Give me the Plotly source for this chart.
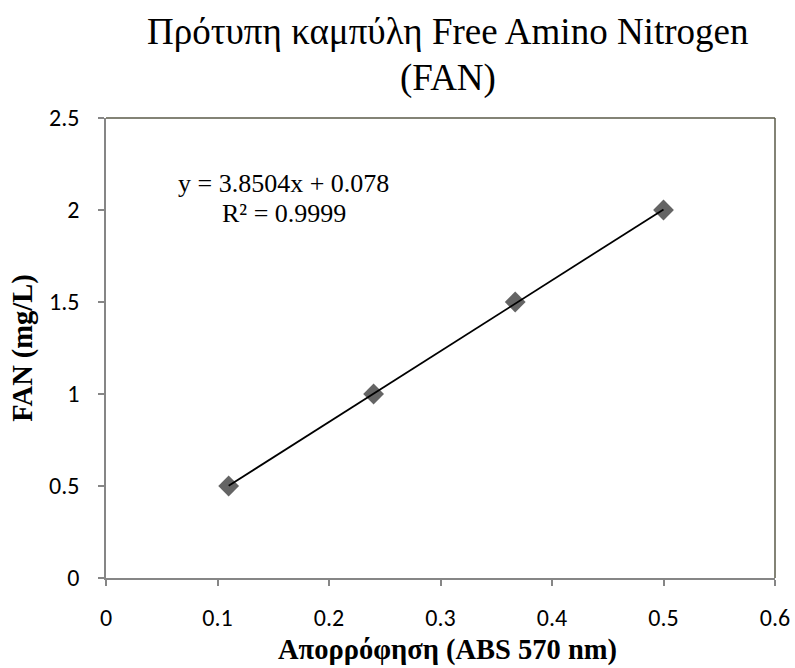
import plotly.graph_objects as go

# Calibration standard: absorbance at 570 nm vs FAN concentration
absorbance = [0.11, 0.24, 0.367, 0.5]
fan_mg_l = [0.5, 1.0, 1.5, 2.0]

# Linear trendline reported on the chart
slope = 3.8504
intercept = 0.078
r_squared = 0.9999

x_ticks = [0, 0.1, 0.2, 0.3, 0.4, 0.5, 0.6]
y_ticks = [0, 0.5, 1, 1.5, 2, 2.5]

title_lines = ["Πρότυπη καμπύλη Free Amino Nitrogen", "(FAN)"]
x_title = "Απορρόφηση (ABS 570 nm)"
y_title = "FAN (mg/L)"

trend_x = [min(absorbance), max(absorbance)]
trend_y = [slope * v + intercept for v in trend_x]

serif = "Liberation Serif, Times New Roman, serif"
sans = "Carlito, Lato, Calibri, sans-serif"
axis_grey = "#868686"

W, H = 795, 668
M_L, M_R, M_T, M_B = 106, 20, 118, 90
plot_h = H - M_T - M_B
plot_w = W - M_L - M_R


def paper_y(py):
    return (H - M_B - py) / plot_h


def paper_x(px):
    return (px - M_L) / plot_w


fig = go.Figure()
fig.add_trace(go.Scatter(
    x=absorbance, y=fan_mg_l, mode="markers",
    marker=dict(symbol="diamond", size=16, color="#646464"),
    showlegend=False, hoverinfo="x+y",
))
fig.add_trace(go.Scatter(
    x=trend_x, y=trend_y, mode="lines",
    line=dict(color="black", width=1.75),
    showlegend=False, hoverinfo="skip",
))

fig.update_layout(
    width=W, height=H,
    margin=dict(l=M_L, r=M_R, t=M_T, b=M_B),
    paper_bgcolor="white", plot_bgcolor="white",
    xaxis=dict(
        range=[0, 0.6], tickvals=x_ticks, ticktext=[f"{v:g}" for v in x_ticks],
        showgrid=False, zeroline=False, automargin=False,
        showline=True, linecolor=axis_grey, linewidth=1.5,
        ticks="outside", ticklen=6, tickcolor=axis_grey, tickwidth=1.5,
        tickfont=dict(family=sans, size=24, color="black"),
        ticklabelstandoff=11,
    ),
    yaxis=dict(
        range=[0, 2.5], tickvals=y_ticks, ticktext=[f"{v:g}" for v in y_ticks],
        showgrid=False, zeroline=False, automargin=False,
        showline=True, linecolor=axis_grey, linewidth=1.5,
        ticks="outside", ticklen=6, tickcolor=axis_grey, tickwidth=1.5,
        tickfont=dict(family=sans, size=24, color="black"),
        ticklabelstandoff=14,
        title=dict(text=f"<b>{y_title}</b>",
                   font=dict(family=serif, size=28.5, color="black"),
                   standoff=8),
    ),
    shapes=[
        dict(type="line", xref="paper", yref="paper", x0=0, x1=1, y0=1, y1=1,
             line=dict(color="#5a5a48", width=1.5)),
        dict(type="line", xref="paper", yref="paper", x0=1, x1=1, y0=0, y1=1,
             line=dict(color="#5a5a48", width=1.5)),
    ],
    annotations=[
        dict(x=paper_x(447.5), y=paper_y(31), xref="paper", yref="paper",
             showarrow=False, text=title_lines[0], yanchor="middle",
             font=dict(family=serif, size=37, color="black")),
        dict(x=paper_x(447.5), y=paper_y(78), xref="paper", yref="paper",
             showarrow=False, text=title_lines[1], yanchor="middle",
             font=dict(family=serif, size=37, color="black")),
        dict(x=paper_x(447.5), y=paper_y(650), xref="paper", yref="paper",
             showarrow=False, text=f"<b>{x_title}</b>", yanchor="middle",
             font=dict(family=serif, size=28.5, color="black")),
        dict(x=0.1596, y=2.143, xref="x", yref="y", showarrow=False,
             text=f"y = {slope}x + {intercept}",
             font=dict(family=serif, size=26, color="black")),
        dict(x=0.1596, y=1.98, xref="x", yref="y", showarrow=False,
             text=f"R² = {r_squared}",
             font=dict(family=serif, size=26, color="black")),
    ],
)

fig.write_html("out.html")
